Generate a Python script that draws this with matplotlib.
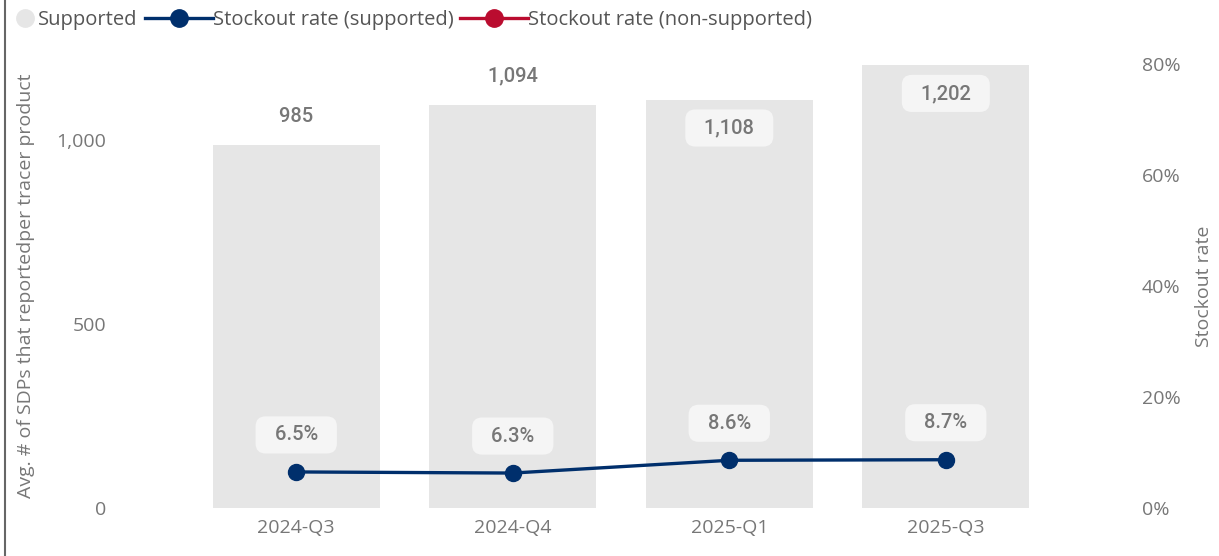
import matplotlib.pyplot as plt
from matplotlib.lines import Line2D
from matplotlib.ticker import FuncFormatter, PercentFormatter

plt.rcParams['font.family'] = ['Open Sans', 'DejaVu Sans']

quarters = ['2024-Q3', '2024-Q4', '2025-Q1', '2025-Q3']
supported_sdps = [985, 1094, 1108, 1202]
stockout_supported = [0.065, 0.063, 0.086, 0.087]
stockout_non_supported = []  # no values reported for these quarters

BAR = '#e6e6e6'
NAVY = '#002f6c'
RED = '#ba0c2f'
TXT = '#777777'
FS = 14

fig = plt.figure(figsize=(12.19, 5.56), dpi=100)
ax = fig.add_axes([0.1542, 0.0863, 0.7105, 0.7987])
ax2 = ax.twinx()

x = range(len(quarters))
ax.bar(x, supported_sdps, width=0.77, color=BAR, zorder=1)
ax.set_xlim(-0.5, 3.5)
ax.set_ylim(0, 1206)
ax.set_yticks([0, 500, 1000])
ax.yaxis.set_major_formatter(FuncFormatter(lambda v, p: f'{v:,.0f}'))
ax.set_xticks(list(x))
ax.set_xticklabels(quarters)

ax2.plot(list(x), stockout_supported, color=NAVY, lw=2.4, marker='o', ms=11.5, zorder=3)
ax2.plot(stockout_non_supported, color=RED, lw=2.4, marker='o', ms=11.5)
ax2.set_ylim(0, 0.8)
ax2.set_yticks([0, 0.2, 0.4, 0.6, 0.8])
ax2.yaxis.set_major_formatter(PercentFormatter(1.0, decimals=0))

for a in (ax, ax2):
    for s in a.spines.values():
        s.set_visible(False)
    a.tick_params(length=0, colors=TXT, labelsize=FS)
ax.tick_params(axis='y', pad=59)
ax.tick_params(axis='x', pad=8)
ax2.tick_params(axis='y', pad=63)
for lbl in ax2.get_yticklabels():
    lbl.set_horizontalalignment('left')

ax.set_ylabel('Avg. # of SDPs that reportedper tracer product', color=TXT, fontsize=FS)
ax.yaxis.set_label_coords(-0.177, 0.5)
ax2.set_ylabel('Stockout rate', color=TXT, fontsize=FS)
ax2.yaxis.set_label_coords(1.163, 0.5)

# bar value labels: above the bar, or inside when there is no room
lbl_font = dict(fontsize=14.5, color=TXT, family=['Roboto', 'DejaVu Sans'], weight='medium')
box = dict(boxstyle='round,pad=0.45,rounding_size=0.5', fc='#f5f5f5', ec='none')
for i, v in enumerate(supported_sdps):
    inside = v > 1100
    ax.annotate(f'  {v:,}  ', (i, v), xytext=(0, -28 if inside else 29),
                textcoords='offset pixels', ha='center', va='center',
                bbox=box if inside else dict(box, fc='white'), zorder=4, **lbl_font)

for i, v in enumerate(stockout_supported):
    ax2.annotate(f'  {v * 100:.1f}%  ', (i, v), xytext=(0, 37),
                 textcoords='offset pixels', ha='center', va='center',
                 bbox=box, zorder=4, **lbl_font)

leg_kw = dict(loc='center left', frameon=False, fontsize=14.5, labelcolor='#555555',
              borderpad=0, borderaxespad=0)
leg1 = fig.legend([Line2D([], [], ls='none', marker='o', ms=12.5, color=BAR)], ['Supported'],
                  bbox_to_anchor=(0.0131, 0.964), handlelength=0.85, handletextpad=0.25,
                  **leg_kw)
fig.legend([Line2D([], [], color=NAVY, lw=2.4, marker='o', ms=12.5),
            Line2D([], [], color=RED, lw=2.4, marker='o', ms=12.5)],
           ['Stockout rate (supported)', 'Stockout rate (non-supported)'],
           bbox_to_anchor=(0.119, 0.964), ncol=2, handlelength=3.35, handletextpad=0.0,
           columnspacing=0.35, **leg_kw)

fig.add_artist(Line2D([0.004, 0.004], [0, 1], color='#666666', lw=1.5))

fig.savefig('out.png', dpi=100)
